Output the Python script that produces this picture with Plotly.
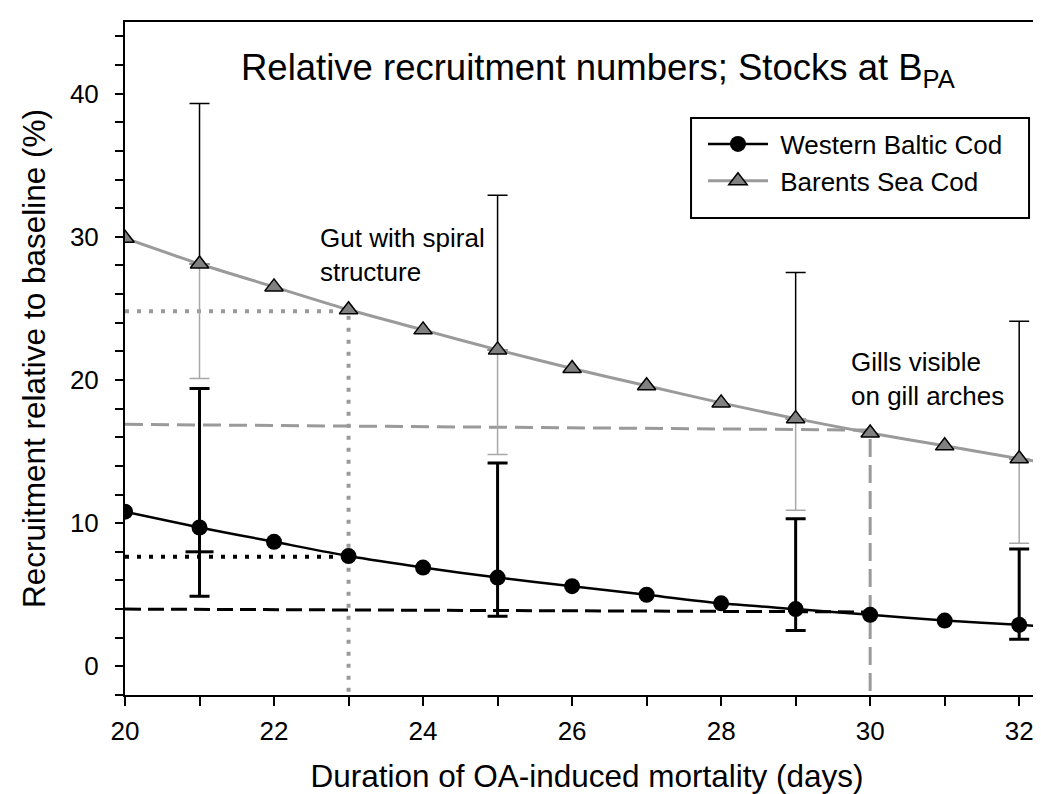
import plotly.graph_objects as go

# Duration of OA-induced mortality (days)
days = [20, 21, 22, 23, 24, 25, 26, 27, 28, 29, 30, 31, 32, 33]

# Relative recruitment (%) - last value is where the curve leaves the frame
wbc = [10.8, 9.7, 8.7, 7.7, 6.9, 6.2, 5.6, 5.0, 4.4, 4.0, 3.6, 3.2, 2.9, 2.55]
bsc = [29.9, 28.1, 26.5, 24.9, 23.5, 22.1, 20.8, 19.6, 18.4, 17.3, 16.3, 15.4, 14.5, 13.7]

# error bars
err_days = [21, 25, 29, 32]
wbc_err_hi = [19.4, 14.2, 10.3, 8.2]
wbc_err_lo = [4.9, 3.5, 2.5, 1.9]
bsc_err_hi = [39.3, 32.9, 27.5, 24.1]
bsc_err_lo = [20.1, 14.8, 10.9, 8.6]
wbc_inner_cap_x = [21]
wbc_inner_cap_y = [8.0]

# reference lines
gut_x = [20, 23, 23]
gut_bsc_y = [24.8, 24.8, -2]
gut_wbc_x = [20, 23]
gut_wbc_y = [7.65, 7.65]
gills_x = [20, 30, 30]
gills_bsc_y = [16.9, 16.5, -2]
gills_wbc_x = [20, 30]
gills_wbc_y = [4.0, 3.8]

FONT = "Liberation Sans, Arial, sans-serif"
GREY_LINE = "#9a9a9a"
GREY_FILL = "#808080"

fig = go.Figure()

# reference lines
fig.add_trace(go.Scatter(x=gut_x, y=gut_bsc_y, mode="lines", showlegend=False,
                         line=dict(color=GREY_LINE, width=4, dash="4px,8px")))
fig.add_trace(go.Scatter(x=gut_wbc_x, y=gut_wbc_y, mode="lines", showlegend=False,
                         line=dict(color="black", width=4, dash="4px,8px")))
fig.add_trace(go.Scatter(x=gills_x, y=gills_bsc_y, mode="lines", showlegend=False,
                         line=dict(color=GREY_LINE, width=3, dash="18px,8px")))
fig.add_trace(go.Scatter(x=gills_wbc_x, y=gills_wbc_y, mode="lines", showlegend=False,
                         line=dict(color="black", width=3, dash="16px,7px")))

# error bars
wbc_c = [wbc[days.index(d)] for d in err_days]
bsc_c = [bsc[days.index(d)] for d in err_days]

fig.add_trace(go.Scatter(
    x=err_days, y=bsc_c, mode="markers", showlegend=False,
    marker=dict(size=1, opacity=0),
    error_y=dict(type="data", symmetric=False,
                 array=[h - c for h, c in zip(bsc_err_hi, bsc_c)],
                 arrayminus=[0] * len(err_days),
                 color="black", thickness=1.5, width=10)))
fig.add_trace(go.Scatter(
    x=err_days, y=bsc_c, mode="markers", showlegend=False,
    marker=dict(size=1, opacity=0),
    error_y=dict(type="data", symmetric=False,
                 array=[0] * len(err_days),
                 arrayminus=[c - l for c, l in zip(bsc_c, bsc_err_lo)],
                 color="#a8a8a8", thickness=1.5, width=10)))
fig.add_trace(go.Scatter(
    x=err_days, y=wbc_c, mode="markers", showlegend=False,
    marker=dict(size=1, opacity=0),
    error_y=dict(type="data", symmetric=False,
                 array=[h - c for h, c in zip(wbc_err_hi, wbc_c)],
                 arrayminus=[c - l for c, l in zip(wbc_c, wbc_err_lo)],
                 color="black", thickness=3, width=10)))
fig.add_trace(go.Scatter(
    x=wbc_inner_cap_x, y=wbc_inner_cap_y, mode="markers", showlegend=False,
    marker=dict(symbol="line-ew", size=20, line=dict(color="black", width=3))))

# series
fig.add_trace(go.Scatter(
    x=days, y=bsc, mode="lines+markers", name="\u00a0Barents Sea Cod", legendrank=2,
    line=dict(color=GREY_LINE, width=3, shape="spline", smoothing=0.6),
    marker=dict(symbol="triangle-up", size=16, color=GREY_FILL,
                line=dict(color="black", width=1.5))))
fig.add_trace(go.Scatter(
    x=days, y=wbc, mode="lines+markers", name="\u00a0Western Baltic Cod", legendrank=1,
    line=dict(color="black", width=2.5, shape="spline", smoothing=0.6),
    marker=dict(symbol="circle", size=16, color="black")))

fig.add_annotation(x=0.512, y=0.9287, xref="paper", yref="paper",
                   xanchor="center", yanchor="middle",
                   text="Relative recruitment numbers; Stocks at B<sub>PA</sub>",
                   showarrow=False, font=dict(size=36.5, color="black", family=FONT))
fig.add_annotation(x=22.59, y=28.75, xref="x", yref="y", xanchor="left", align="left",
                   text="Gut with spiral<br>structure", showarrow=False,
                   font=dict(size=26, color="black", family=FONT))
fig.add_annotation(x=29.72, y=20.1, xref="x", yref="y", xanchor="left", align="left",
                   text="Gills visible<br>on gill arches", showarrow=False,
                   font=dict(size=26, color="black", family=FONT))

# legend frame
fig.add_shape(type="rect", xref="paper", yref="paper",
              x0=0.6126, x1=0.9784, y0=0.7088, y1=0.8574,
              line=dict(color="black", width=2), fillcolor="white", layer="above")

fig.update_layout(
    width=1041, height=794,
    margin=dict(l=117, r=0, t=14, b=107),
    plot_bgcolor="white", paper_bgcolor="white",
    font=dict(family=FONT, color="black", size=26),
    showlegend=True,
    legend=dict(x=0.6255, y=0.8536, xanchor="left", yanchor="top",
                borderwidth=0, bgcolor="rgba(0,0,0,0)",
                font=dict(size=26), itemwidth=60),
)
fig.update_xaxes(
    range=[20, 32.4], dtick=2, tick0=20, showgrid=False, zeroline=False,
    showline=True, linecolor="black", linewidth=2, mirror=True,
    ticks="outside", ticklen=9, tickwidth=1.5, tickcolor="black",
    minor=dict(dtick=1, ticks="outside", ticklen=9, tickwidth=1.5, tickcolor="black"),
    ticklabelstandoff=3, tickfont=dict(size=26),
    title=dict(text="Duration of OA-induced mortality (days)", font=dict(size=31.5), standoff=20),
)
fig.update_yaxes(
    range=[-2, 45], dtick=10, tick0=0, showgrid=False, zeroline=False,
    showline=True, linecolor="black", linewidth=2,
    ticks="outside", ticklen=8, tickwidth=1.5, tickcolor="black",
    minor=dict(dtick=2, ticks="outside", ticklen=8, tickwidth=1.5, tickcolor="black"),
    ticklabelstandoff=11, tickfont=dict(size=26),
    title=dict(text="Recruitment relative to baseline (%)", font=dict(size=31.5), standoff=15),
)

fig.write_html("out.html")
